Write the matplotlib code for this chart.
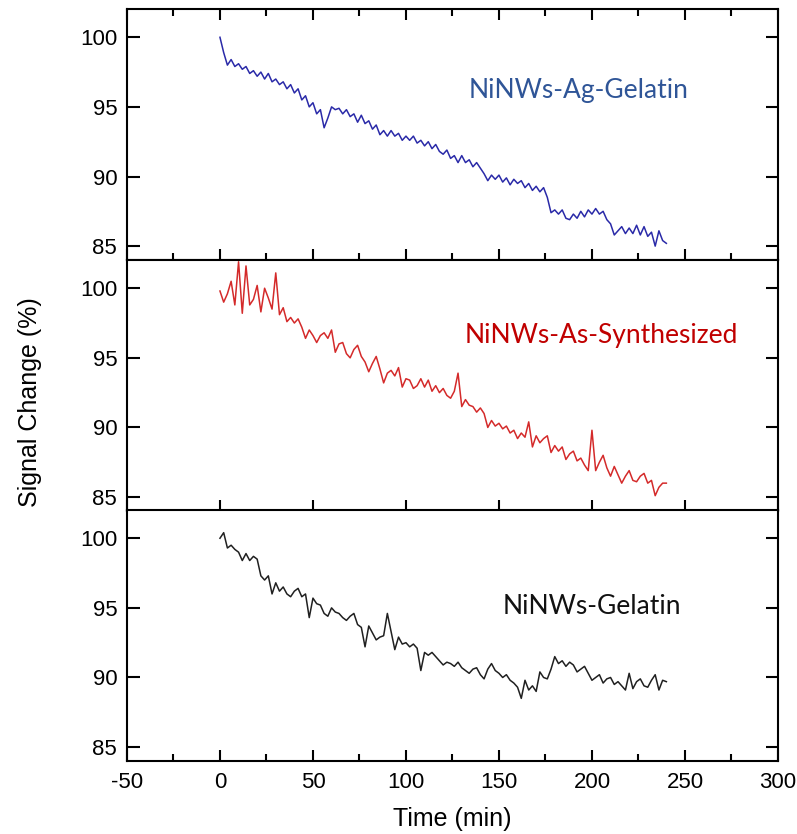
import matplotlib
matplotlib.use('Agg')

import numpy as np
import matplotlib.pyplot as plt
from matplotlib.ticker import MultipleLocator

# =========================
# Data (2 min steps)
# =========================
time_min = np.arange(0, 241, 2)

ag_gelatin = [
    100.0, 98.9, 98.0, 98.4, 97.9, 98.1, 97.7, 97.9, 97.4, 97.6,
    97.2, 97.5, 97.0, 97.4, 96.8, 97.0, 96.6, 96.8, 96.3, 96.6,
    96.0, 96.3, 95.5, 95.8, 95.0, 95.3, 94.5, 94.8, 93.5, 94.2,
    95.0, 94.8, 94.9, 94.5, 94.8, 94.3, 94.5, 93.9, 94.4, 93.8,
    94.0, 93.4, 93.7, 93.0, 93.3, 92.9, 93.3, 92.9, 93.1, 92.6,
    92.9, 92.6, 92.9, 92.4, 92.6, 92.2, 92.5, 92.0, 92.3, 91.8,
    91.6, 91.9, 91.3, 91.5, 91.0, 91.5, 91.0, 91.2, 90.7, 91.0,
    90.6, 90.2, 89.7, 90.1, 89.8, 90.1, 89.6, 89.9, 89.4, 89.8,
    89.5, 89.7, 89.2, 89.5, 89.0, 89.3, 88.9, 89.2, 88.5, 87.4,
    87.6, 87.3, 87.6, 87.0, 86.9, 87.3, 87.0, 87.5, 87.1, 87.6,
    87.3, 87.7, 87.3, 87.5, 86.9, 86.6, 85.8, 86.1, 86.4, 85.9,
    86.3, 85.9, 86.5, 85.8, 86.4, 85.7, 86.0, 85.0, 86.1, 85.4,
    85.2,
]

as_synthesized = [
    99.8, 99.0, 99.6, 100.5, 98.8, 101.9, 98.2, 101.6, 98.8, 99.2,
    100.2, 98.3, 100.0, 99.3, 98.5, 101.1, 98.1, 98.6, 97.6, 97.9,
    97.5, 97.8, 97.2, 96.4, 97.0, 96.6, 96.1, 96.6, 96.8, 96.4,
    97.0, 95.4, 96.0, 96.1, 95.3, 95.0, 95.6, 95.9, 95.1, 94.7,
    94.0, 94.6, 95.1, 94.2, 93.2, 93.9, 94.1, 93.7, 94.3, 92.9,
    93.5, 93.4, 92.8, 93.0, 93.5, 92.9, 93.4, 92.6, 93.0, 92.5,
    92.8, 92.3, 92.1, 92.6, 93.9, 91.5, 92.0, 91.6, 91.5, 91.1,
    91.4, 91.0, 90.0, 90.5, 90.1, 90.3, 89.9, 90.1, 89.6, 89.8,
    89.2, 89.6, 89.3, 90.4, 88.6, 89.4, 88.9, 89.2, 89.4, 88.2,
    88.7, 88.3, 88.6, 87.7, 88.1, 88.3, 87.6, 87.8, 87.3, 86.9,
    89.8, 86.9, 87.5, 88.0, 87.1, 86.5, 87.2, 86.6, 86.0, 86.5,
    86.9, 86.2, 86.1, 86.5, 86.7, 86.0, 86.2, 85.1, 85.7, 86.0,
    86.0,
]

gelatin = [
    100.0, 100.4, 99.3, 99.5, 99.2, 99.0, 98.4, 98.9, 98.4, 98.7,
    98.5, 97.3, 97.0, 97.3, 96.0, 96.8, 96.2, 96.5, 96.0, 95.8,
    96.2, 96.4, 95.8, 96.0, 94.3, 95.7, 95.3, 95.2, 94.6, 94.4,
    95.0, 94.7, 94.6, 94.3, 94.1, 94.4, 94.6, 93.8, 93.6, 92.2,
    93.7, 93.2, 92.7, 92.9, 93.0, 94.6, 93.3, 92.0, 92.9, 92.4,
    92.5, 92.2, 92.4, 92.1, 90.5, 91.8, 91.6, 91.8, 91.5, 91.2,
    90.9, 91.1, 91.0, 90.8, 91.1, 90.7, 90.5, 90.3, 90.6, 90.7,
    90.2, 89.9, 90.6, 91.0, 90.5, 90.3, 90.0, 90.2, 89.8, 89.6,
    89.3, 88.5, 89.8, 89.1, 89.4, 89.0, 90.4, 90.0, 89.9, 90.6,
    91.5, 91.0, 91.2, 90.8, 91.1, 90.9, 90.4, 90.6, 90.8, 90.3,
    89.8, 90.0, 90.2, 89.6, 89.9, 90.0, 89.5, 89.7, 89.4, 89.1,
    90.3, 89.2, 89.7, 89.9, 89.4, 89.3, 89.8, 90.2, 89.1, 89.8,
    89.7,
]

series = [ag_gelatin, as_synthesized, gelatin]
labels = ["NiNWs-Ag-Gelatin", "NiNWs-As-Synthesized", "NiNWs-Gelatin"]
line_colors = ["#2a2aa8", "#d42a2a", "#202020"]
text_colors = ["#2f5597", "#c00000", "#111111"]
text_pos = [(193, 96.2), (205, 96.6), (200, 95.1)]
y_ticks = [85, 90, 95, 100]
x_ticks = [-50, 0, 50, 100, 150, 200, 250, 300]

# =========================
# Figure
# =========================
plt.rcParams['font.family'] = ['Liberation Sans', 'DejaVu Sans']
plt.rcParams['axes.unicode_minus'] = False
fig = plt.figure(figsize=(7.97, 8.34), dpi=100)

left, width = 0.1593, 0.8168
bottoms = [0.6882, 0.3873, 0.0875]
height = 0.3005

axes = []
for i in range(3):
    ax = fig.add_axes([left, bottoms[i], width, height])
    ax.plot(time_min, series[i], color=line_colors[i], lw=1.1)
    ax.set_xlim(-50, 300)
    ax.set_ylim(84, 102)
    ax.set_yticks(y_ticks)
    ax.set_xticks(x_ticks)
    for s in ax.spines.values():
        s.set_linewidth(1.5)
    ax.tick_params(axis='y', direction='in', length=9, width=1.5,
                   left=True, right=True, labelsize=16, pad=7)
    ax.tick_params(axis='x', which='major', direction='in', length=8, width=1.5,
                   labelsize=16, pad=8)
    ax.tick_params(axis='x', which='minor', direction='in', length=5, width=1.5)
    ax.text(text_pos[i][0], text_pos[i][1], labels[i], color=text_colors[i],
            fontsize=19, ha='center', va='center', family=['Lato', 'DejaVu Sans'])
    axes.append(ax)

# top panel: ticks top and bottom, with minors
axes[0].xaxis.set_minor_locator(MultipleLocator(25))
axes[0].tick_params(axis='x', which='both', top=True, bottom=True, labelbottom=False)
# middle panel: only major ticks at the bottom
axes[1].tick_params(axis='x', which='both', top=False, bottom=True, labelbottom=False)
# bottom panel: labels, minor ticks at the bottom
axes[2].xaxis.set_minor_locator(MultipleLocator(25))
axes[2].tick_params(axis='x', which='both', top=False, bottom=True)
axes[2].set_xlabel("Time (min)", fontsize=18, labelpad=10)

fig.text(0.038, 0.518, "Signal Change (%)", rotation=90, fontsize=18,
         ha='center', va='center')

fig.savefig("out.png", dpi=100)
